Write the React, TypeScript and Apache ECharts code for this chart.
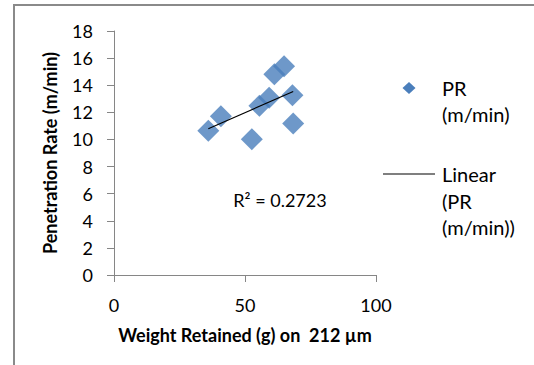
import React, { useEffect, useRef } from "react";
import * as echarts from "echarts";

const weightRetained = [36.0, 40.8, 52.6, 55.5, 59.2, 61.2, 64.9, 68.1, 68.4];
const penetrationRate = [10.65, 11.72, 10.02, 12.48, 13.07, 14.81, 15.4, 13.26, 11.18];
const xTicks = { min: 0, max: 100, interval: 50 };
const yTicks = { min: 0, max: 18, interval: 2 };
const seriesName = "PR (m/min)";
const trendName = "Linear (PR (m/min))";
const rSquaredLabel = "R² = 0.2723";
const xTitle = "Weight Retained (g) on  212 µm";
const yTitle = "Penetration Rate (m/min)";

function linearFit(xs: number[], ys: number[]) {
  const n = xs.length;
  const mx = xs.reduce((a, b) => a + b, 0) / n;
  const my = ys.reduce((a, b) => a + b, 0) / n;
  let sxy = 0;
  let sxx = 0;
  for (let i = 0; i < n; i++) {
    sxy += (xs[i] - mx) * (ys[i] - my);
    sxx += (xs[i] - mx) * (xs[i] - mx);
  }
  const slope = sxy / sxx;
  return { slope, intercept: my - slope * mx };
}

export default function App() {
  const ref = useRef<HTMLDivElement>(null);
  useEffect(() => {
    if (!ref.current) return;
    const chart = echarts.init(ref.current, null, { renderer: "svg" });
    const fit = linearFit(weightRetained, penetrationRate);
    const x0 = Math.min(...weightRetained);
    const x1 = Math.max(...weightRetained);
    const trend = [
      [x0, fit.intercept + fit.slope * x0],
      [x1, fit.intercept + fit.slope * x1],
    ];
    const font = "Lato, 'Open Sans', sans-serif";
    const axisColor = "#868686";
    chart.setOption({
      animation: false,
      backgroundColor: "#ffffff",
      textStyle: { fontFamily: font },
      grid: { left: 114, top: 31, right: 158, bottom: 90, containLabel: false },
      xAxis: {
        type: "value",
        ...xTicks,
        name: xTitle,
        nameLocation: "middle",
        nameGap: 51,
        nameTextStyle: { fontFamily: font, fontSize: 18, fontWeight: "bold", color: "#000" },
        axisLine: { show: true, lineStyle: { color: axisColor, width: 1 } },
        axisTick: { show: true, inside: false, length: 7, lineStyle: { color: axisColor } },
        axisLabel: { margin: 21, fontFamily: font, fontSize: 18, color: "#000" },
        splitLine: { show: false },
      },
      yAxis: {
        type: "value",
        ...yTicks,
        name: yTitle,
        nameLocation: "middle",
        nameGap: 55,
        nameRotate: 90,
        nameTextStyle: { fontFamily: font, fontSize: 18, fontWeight: "bold", color: "#000" },
        axisLine: { show: true, lineStyle: { color: axisColor, width: 1 } },
        axisTick: { show: true, inside: false, length: 7, lineStyle: { color: axisColor } },
        axisLabel: { margin: 21, fontFamily: font, fontSize: 18, color: "#000" },
        splitLine: { show: false },
      },
      series: [
        {
          name: seriesName,
          type: "scatter",
          symbol: "diamond",
          symbolSize: 22,
          itemStyle: { color: "#4A7EBB" },
          data: weightRetained.map((x, i) => [x, penetrationRate[i]]),
          z: 2,
        },
        {
          name: trendName,
          type: "line",
          showSymbol: false,
          symbol: "none",
          lineStyle: { color: "#000", width: 1.2 },
          data: trend,
          z: 3,
        },
      ],
      graphic: [
        { type: "line", shape: { x1: 14, y1: 4, x2: 14, y2: 365 }, style: { stroke: "#8a8a8a", lineWidth: 2 } },
        { type: "line", shape: { x1: 13, y1: 5, x2: 534, y2: 5 }, style: { stroke: "#8a8a8a", lineWidth: 2 } },
        {
          type: "text",
          x: 280,
          y: 200,
          style: { text: rSquaredLabel, fontFamily: font, fontSize: 18, fill: "#000", align: "center", verticalAlign: "middle" },
        },
        {
          type: "polygon",
          shape: { points: [[409, 82], [415.5, 88], [409, 94], [402.5, 88]] },
          style: { fill: "#4A7EBB" },
        },
        {
          type: "text",
          x: 442,
          y: 75,
          style: { text: "PR\n(m/min)", fontFamily: font, fontSize: 20, lineHeight: 26, fill: "#000", align: "left", verticalAlign: "top" },
        },
        { type: "line", shape: { x1: 383, y1: 174, x2: 435, y2: 174 }, style: { stroke: "#000", lineWidth: 1.2 } },
        {
          type: "text",
          x: 442,
          y: 161,
          style: { text: "Linear\n(PR\n(m/min))", fontFamily: font, fontSize: 20, lineHeight: 26.5, fill: "#000", align: "left", verticalAlign: "top" },
        },
      ],
    });
    return () => chart.dispose();
  }, []);
  return (
    <div
      ref={ref}
      style={{ position: "fixed", left: 0, top: 0, width: 534, height: 365, background: "#fff" }}
    />
  );
}
